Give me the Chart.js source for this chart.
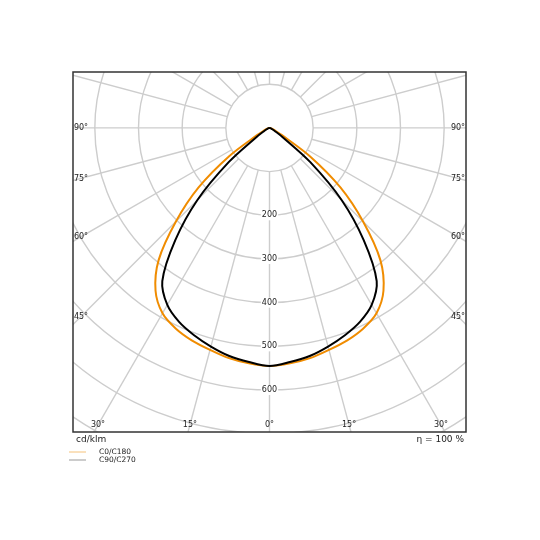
<!DOCTYPE html>
<html>
<head>
<meta charset="utf-8">
<script src="https://cdn.jsdelivr.net/npm/chart.js@4.4.0/dist/chart.umd.min.js"></script>
<style>
  html, body { margin: 0; padding: 0; background: #fff; }
  #wrap { width: 540px; height: 540px; position: relative; }
</style>
</head>
<body>
<div id="wrap"><canvas id="ldc"></canvas></div>
<script>
const angles   = [0, 5, 10, 15, 20, 25, 30, 35, 40, 45, 50, 55, 60, 65, 70, 75, 80, 85, 90];
const c0c180   = [545, 541, 535, 526, 518, 507, 490, 455, 395, 303, 212, 112, 32, 13, 7, 4, 2, 1, 0];
const c90c270  = [545, 538, 530, 518, 505, 490, 468, 428, 336, 234, 122, 36, 14, 7, 4, 3, 2, 1, 0];
const radiusLabels = [200, 300, 400, 500, 600];
const angleLabels  = [0, 15, 30, 45, 60, 75, 90];
const gridCircles  = [100, 200, 300, 400, 500, 600, 700, 800];

///// courbe polaire complète (gauche puis droite)
function polarPoints(values) {
    let pts = [];
    for (let i = angles.length - 1; i >= 0; i--) {
        let g = angles[i] * Math.PI / 180;
        pts.push({x: -values[i] * Math.sin(g), y: -values[i] * Math.cos(g)});
    }
    for (let i = 1; i < angles.length; i++) {
        let g = angles[i] * Math.PI / 180;
        pts.push({x: values[i] * Math.sin(g), y: -values[i] * Math.cos(g)});
    }
    return pts;
}

const FONT = "'DejaVu Sans', sans-serif";

///// grille polaire
const polarGrid = {
    id: "polarGrid",
    beforeDatasetsDraw(chart) {
        let ctx = chart.ctx, a = chart.chartArea;
        let sx = chart.scales.x, sy = chart.scales.y;
        let cx = sx.getPixelForValue(0), cy = sy.getPixelForValue(0);
        let k = sx.getPixelForValue(100) - cx;
        ctx.save();
        ctx.beginPath();
        ctx.rect(a.left, a.top, a.right - a.left, a.bottom - a.top);
        ctx.clip();
        ctx.strokeStyle = "#cdcdcd";
        ctx.lineWidth = 1.4;
        gridCircles.forEach(r => {
            ctx.beginPath();
            ctx.arc(cx, cy, r / 100 * k, 0, Math.PI * 2);
            ctx.stroke();
        });
        for (let d = 0; d < 360; d += 15) {
            let t = d * Math.PI / 180;
            ctx.beginPath();
            ctx.moveTo(cx + Math.sin(t) * k, cy + Math.cos(t) * k);
            ctx.lineTo(cx + Math.sin(t) * 12 * k, cy + Math.cos(t) * 12 * k);
            ctx.stroke();
        }
        ctx.font = "8px " + FONT;
        ctx.textAlign = "center";
        ctx.textBaseline = "middle";
        radiusLabels.forEach(r => {
            let y = sy.getPixelForValue(-r);
            let w = ctx.measureText(String(r)).width;
            ctx.fillStyle = "#fff";
            ctx.fillRect(cx - w / 2 - 1, y - 5, w + 2, 10);
            ctx.fillStyle = "#222";
            ctx.fillText(String(r), cx, y);
        });
        ctx.restore();
    },
    afterDraw(chart) {
        let ctx = chart.ctx, a = chart.chartArea;
        let sx = chart.scales.x, sy = chart.scales.y;
        let cx = sx.getPixelForValue(0), cy = sy.getPixelForValue(0);
        ctx.save();
        ctx.strokeStyle = "#333";
        ctx.lineWidth = 1.5;
        ctx.strokeRect(a.left, a.top, a.right - a.left, a.bottom - a.top);

        ///// étiquettes des angles
        ctx.font = "8px " + FONT;
        ctx.fillStyle = "#222";
        ctx.textAlign = "center";
        ctx.textBaseline = "middle";
        angleLabels.forEach(g => {
            [-1, 1].forEach(side => {
                if (g == 0 && side == 1) return;
                let t = g * Math.PI / 180;
                let dx = side * Math.sin(t), dy = Math.cos(t);
                let tb = dy > 1e-6 ? (a.bottom - 7 - cy) / dy : Infinity;
                let ts = Math.abs(dx) > 1e-6 ? (side < 0 ? (cx - a.left - 8) : (a.right - 8 - cx)) / Math.abs(dx) : Infinity;
                let tt = Math.min(tb, ts);
                ctx.fillText(g + "°", cx + dx * tt, cy + dy * tt);
            });
        });

        ///// textes sous le cadre
        ctx.font = "9px " + FONT;
        ctx.textBaseline = "middle";
        ctx.textAlign = "left";
        ctx.fillText("cd/klm", a.left + 3, a.bottom + 8);
        ctx.textAlign = "right";
        ctx.fillText("η = 100 %", a.right - 2, a.bottom + 8);

        ///// légende
        ctx.font = "7.5px " + FONT;
        ctx.textAlign = "left";
        ctx.lineWidth = 1;
        ctx.strokeStyle = "#f5c27a";
        ctx.beginPath(); ctx.moveTo(a.left - 4, 452); ctx.lineTo(a.left + 13, 452); ctx.stroke();
        ctx.fillText("C0/C180", a.left + 26, 452);
        ctx.strokeStyle = "#999";
        ctx.beginPath(); ctx.moveTo(a.left - 4, 460); ctx.lineTo(a.left + 13, 460); ctx.stroke();
        ctx.fillText("C90/C270", a.left + 26, 460);
        ctx.restore();
    }
};

///// création du graphique
let ldc = new Chart(document.getElementById("ldc"), {
    type: "scatter",
    data: {
        datasets: [{
            label: "C90/C270",
            data: polarPoints(c90c270),
            showLine: true,
            borderColor: "#000",
            borderWidth: 2,
            pointRadius: 0,
            tension: 0.3,
            order: 0
        }, {
            label: "C0/C180",
            data: polarPoints(c0c180),
            showLine: true,
            borderColor: "#f08c00",
            borderWidth: 2,
            pointRadius: 0,
            tension: 0.3,
            order: 1
        }]
    },
    options: {
        responsive: true,
        maintainAspectRatio: false,
        animation: false,
        layout: { padding: { left: 73, right: 74, top: 72, bottom: 108 } },
        plugins: { legend: { display: false }, tooltip: { enabled: false } },
        scales: {
            x: { type: "linear", min: -450, max: 450, display: false },
            y: { type: "linear", min: -696, max: 128, display: false }
        }
    },
    plugins: [polarGrid]
});
</script>
</body>
</html>
